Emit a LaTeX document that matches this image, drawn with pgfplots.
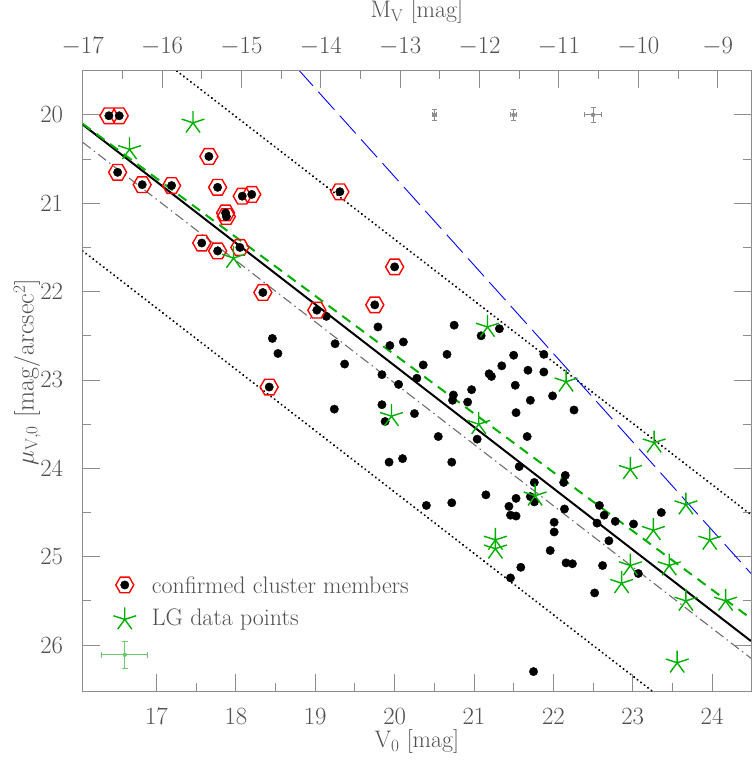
\documentclass[border=0pt]{standalone}
\usepackage{pgfplots}
\pgfplotsset{compat=1.18}
\definecolor{txt}{RGB}{80,80,80}
\definecolor{axc}{RGB}{140,140,140}
\definecolor{lgc}{RGB}{0,175,0}
\definecolor{ddc}{RGB}{110,110,110}
\definecolor{errg}{RGB}{110,200,110}
\pgfdeclareplotmark{hexagon}{%
  \pgfpathmoveto{\pgfpointpolar{0}{\pgfplotmarksize}}%
  \pgfpathlineto{\pgfpointpolar{60}{\pgfplotmarksize}}%
  \pgfpathlineto{\pgfpointpolar{120}{\pgfplotmarksize}}%
  \pgfpathlineto{\pgfpointpolar{180}{\pgfplotmarksize}}%
  \pgfpathlineto{\pgfpointpolar{240}{\pgfplotmarksize}}%
  \pgfpathlineto{\pgfpointpolar{300}{\pgfplotmarksize}}%
  \pgfpathclose
  \pgfusepathqstroke}
\pgfplotsset{
  commonax/.style={
    scale only axis, width=668.3bp, height=620.3bp,
    axis line style={axc, line width=0.9bp},
    tick style={axc, line width=0.9bp},
    tick align=inside,
    major tick length=17bp, minor tick length=8bp,
    minor tick num=1,
    ticklabel style={font=\fontsize{26}{28}\selectfont, text=txt},
    label style={font=\fontsize{24}{26}\selectfont, text=txt},
  }
}
\begin{document}
\begin{tikzpicture}
\begin{axis}[commonax,
  xmin=16.07, xmax=24.49, ymin=19.5, ymax=26.52, y dir=reverse,
  xtick={17,18,...,24}, ytick={20,21,...,26},
  xtick pos=left, ytick pos=both, yticklabel pos=left,
  xticklabel style={anchor=center, yshift=-26bp},
  yticklabel style={anchor=center, xshift=-31bp},
  xlabel={V$_{\mathrm{0}}$ [mag]},
  ylabel={$\mu_{\mathrm{V,0}}$ [mag/arcsec$^2$]},
  xlabel style={at={(axis description cs:0.5,-0.0822)}, anchor=center},
  ylabel style={at={(axis description cs:-0.083,0.514)}, anchor=center, font=\fontsize{26}{28}\selectfont},
  clip=true,
]
% fitted and reference lines
\addplot[black, line width=2.3bp, dash pattern=on 0.01bp off 4.4bp, line cap=round] coordinates {(16.07,18.68) (24.49,24.525)};
\addplot[black, line width=2.3bp, dash pattern=on 0.01bp off 4.4bp, line cap=round] coordinates {(16.07,21.54) (24.49,27.385)};
\addplot[blue, line width=0.9bp, dash pattern=on 24bp off 8bp] coordinates {(18.5,19.2) (24.49,25.19)};
\addplot[ddc, line width=1.1bp, dash pattern=on 10bp off 4bp on 1.5bp off 4bp] coordinates {(16.07,20.31) (24.49,26.15)};
\addplot[black, line width=2bp] coordinates {(16.07,20.11) (24.49,25.955)};
\addplot[lgc, line width=2bp, dash pattern=on 10bp off 7bp] coordinates {(16.07,20.10) (24.49,25.70)};
% error bars
\addplot[axc, only marks, mark=none,
  error bars/.cd, x dir=both, x explicit, y dir=both, y explicit,
  error bar style={line width=0.8bp}, error mark options={rotate=90, mark size=2.5bp, line width=0.8bp}]
  coordinates {(20.5,20.0) +- (0.03,0.06) (21.5,20.0) +- (0.04,0.065) (22.5,20.0) +- (0.105,0.083)};
\addplot[errg, only marks, mark=none,
  error bars/.cd, x dir=both, x explicit, y dir=both, y explicit,
  error bar style={line width=0.8bp}, error mark options={rotate=90, mark size=3bp, line width=0.8bp}]
  coordinates {(16.60,26.11) +- (0.29,0.15)};
% non-member galaxies
\addplot[only marks, mark=*, mark size=4.2bp, black] coordinates {
(19.14,22.28) (19.79,22.40) (18.46,22.53) (19.25,22.59) (18.53,22.70) (19.94,22.61) (20.11,22.57)
(19.37,22.82) (19.84,22.94) (20.05,23.05) (20.28,22.98) (19.24,23.33) (19.84,23.28) (19.88,23.47)
(20.25,23.38) (19.93,23.93) (20.10,23.89)
(20.75,22.38) (21.09,22.50) (21.32,22.42) (20.66,22.71) (20.36,22.83) (21.50,22.72) (21.88,22.71)
(21.35,22.84) (21.68,22.89) (21.88,22.91) (21.19,22.93) (21.22,22.96) (21.52,23.06) (20.97,23.11)
(20.74,23.17) (20.73,23.23) (20.92,23.25) (21.71,23.23) (21.99,23.18) (22.26,23.34) (21.53,23.37)
(20.55,23.64) (21.04,23.67) (21.67,23.64) (20.72,23.93) (21.57,23.98) (22.15,24.08) (22.13,24.16)
(21.76,24.16) (21.71,24.32) (21.76,24.38) (21.15,24.30) (20.40,24.42) (20.72,24.39) (21.44,24.43)
(21.53,24.34) (21.46,24.53) (21.53,24.54) (22.14,24.46) (22.58,24.42) (22.64,24.53) (22.55,24.62)
(22.78,24.60) (23.01,24.63) (23.36,24.50) (22.01,24.61) (22.01,24.72) (22.70,24.82) (21.96,24.93)
(22.16,25.07) (22.24,25.08) (22.62,25.10) (23.07,25.19) (21.59,25.12) (21.46,25.24) (22.52,25.41)
(21.75,26.30)
};
% confirmed cluster members (hexagon + dot), last point is the legend symbol
\addplot[only marks, mark=hexagon, mark size=9bp, red, line width=1.4bp] coordinates {
(16.40,20.01) (16.53,20.01) (17.66,20.47) (16.51,20.65) (16.82,20.79) (17.19,20.80) (17.77,20.82)
(18.08,20.92) (18.20,20.90) (17.87,21.11) (17.88,21.15) (19.31,20.87) (17.57,21.45) (17.77,21.54)
(18.05,21.50) (18.34,22.01) (19.02,22.21) (19.75,22.15) (20.00,21.72) (18.42,23.08)
(16.60,25.32)
};
\addplot[only marks, mark=*, mark size=4.2bp, black] coordinates {
(16.40,20.01) (16.53,20.01) (17.66,20.47) (16.51,20.65) (16.82,20.79) (17.19,20.80) (17.77,20.82)
(18.08,20.92) (18.20,20.90) (17.87,21.11) (17.88,21.15) (19.31,20.87) (17.57,21.45) (17.77,21.54)
(18.05,21.50) (18.34,22.01) (19.02,22.21) (19.75,22.15) (20.00,21.72) (18.42,23.08)
(16.60,25.32)
};
% Local Group galaxies, last point is the legend symbol
\addplot[only marks, mark=star, mark size=12bp, lgc, line width=1.4bp] coordinates {
(17.46,20.09) (16.66,20.39) (17.97,21.62) (19.96,23.41) (21.17,22.40) (22.16,23.02) (21.06,23.50)
(23.27,23.71) (22.97,24.01) (21.77,24.31) (23.67,24.41) (23.26,24.70) (23.97,24.81) (21.27,24.81)
(21.27,24.91) (22.97,25.10) (23.46,25.10) (22.86,25.30) (23.67,25.50) (24.17,25.50) (23.56,26.20)
(16.60,25.71)
};
\node[anchor=west, font=\fontsize{24}{26}\selectfont, text=txt, inner sep=0pt] at (axis cs:16.94,25.32) {confirmed cluster members};
\node[anchor=west, font=\fontsize{24}{26}\selectfont, text=txt, inner sep=0pt] at (axis cs:16.94,25.71) {LG data points};
\end{axis}
\begin{axis}[commonax,
  xmin=-17.0, xmax=-8.58, ymin=0, ymax=1,
  axis x line*=top, axis y line=none,
  xtick={-17,-16,...,-9},
  xticklabel style={anchor=center, yshift=24bp},
  xlabel={M$_{\mathrm{V}}$ [mag]},
  xlabel style={at={(axis description cs:0.5,1.0946)}, anchor=center},
]
\end{axis}
\pgfresetboundingbox
\path[use as bounding box] (-82.7bp,-74bp) rectangle (669.3bp,691bp);
\end{tikzpicture}
\end{document}
